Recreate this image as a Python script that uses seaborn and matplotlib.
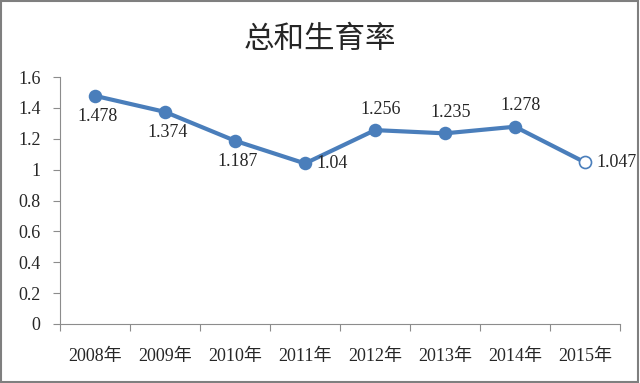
import matplotlib
matplotlib.use('Agg')
import matplotlib.pyplot as plt
import seaborn as sns
import numpy as np
from matplotlib.patches import Rectangle

# 数据
years = ['2008年', '2009年', '2010年', '2011年', '2012年', '2013年', '2014年', '2015年']
tfr = [1.478, 1.374, 1.187, 1.04, 1.256, 1.235, 1.278, 1.047]
label_pos = ['below', 'below', 'below', 'right', 'above', 'above', 'above', 'right']
yticks = [0, 0.2, 0.4, 0.6, 0.8, 1, 1.2, 1.4, 1.6]

LINE_COLOR = '#4a7ebb'
AXIS_COLOR = '#8c8c8c'
NUM_FONT = ['Liberation Serif', 'Noto Sans CJK SC']

sns.set_style('white')
plt.rcParams['font.family'] = NUM_FONT

fig = plt.figure(figsize=(6.4, 3.83), dpi=100)
ax = fig.add_axes([60 / 640, 1 - 324 / 383, 560 / 640, 247 / 383])

xpos = np.arange(len(years))

# 折线
sns.lineplot(x=xpos, y=tfr, color=LINE_COLOR, linewidth=3, ax=ax)
# 实心点（除最后一年）
sns.scatterplot(x=xpos[:-1], y=tfr[:-1], color=LINE_COLOR, s=95,
                edgecolor=LINE_COLOR, linewidth=0, zorder=3, ax=ax)
# 最后一年空心点
ax.scatter(xpos[-1:], tfr[-1:], s=75, facecolor='white',
           edgecolor=LINE_COLOR, linewidth=1.2, zorder=3)

# 数据标签
for x, v, pos in zip(xpos, tfr, label_pos):
    txt = f'{v:g}'
    if pos == 'below':
        ax.annotate(txt, (x, v), xytext=(2, -15), textcoords='offset points',
                    ha='center', va='center', fontsize=13)
    elif pos == 'above':
        ax.annotate(txt, (x, v), xytext=(4, 15), textcoords='offset points',
                    ha='center', va='center', fontsize=13)
    else:
        ax.annotate(txt, (x, v), xytext=(8, 0), textcoords='offset points',
                    ha='left', va='center', fontsize=13)

# 坐标轴
ax.set_xlim(-0.5, len(years) - 0.5)
ax.set_ylim(0, 1.6)
ax.set_yticks(yticks)
ax.set_yticklabels([f'{t:g}' for t in yticks], fontsize=13)
ax.set_xticks(np.arange(-0.5, len(years), 1))
ax.set_xticklabels([])
ax.set_xticks(xpos, minor=True)
ax.set_xticklabels(years, minor=True, fontsize=13)
ax.tick_params(axis='x', which='major', length=5, color=AXIS_COLOR, direction='out', bottom=True)
ax.tick_params(axis='x', which='minor', length=0, pad=17)
ax.tick_params(axis='y', length=5, color=AXIS_COLOR, direction='out', left=True, pad=9)
ax.set_xlabel('')
ax.set_ylabel('')

for side in ['top', 'right']:
    ax.spines[side].set_visible(False)
for side in ['left', 'bottom']:
    ax.spines[side].set_color(AXIS_COLOR)
    ax.spines[side].set_linewidth(0.8)

# 标题
fig.text(0.5, 1 - 40 / 383, '总和生育率', ha='center', va='center',
         fontsize=22, family=['Noto Sans CJK SC', 'DejaVu Sans'])

# 外框
fig.patches.append(Rectangle((0.002, 0.003), 0.995, 0.994, transform=fig.transFigure,
                             fill=False, edgecolor='#7f7f7f', linewidth=1.5))

fig.savefig('out.png', dpi=100)
